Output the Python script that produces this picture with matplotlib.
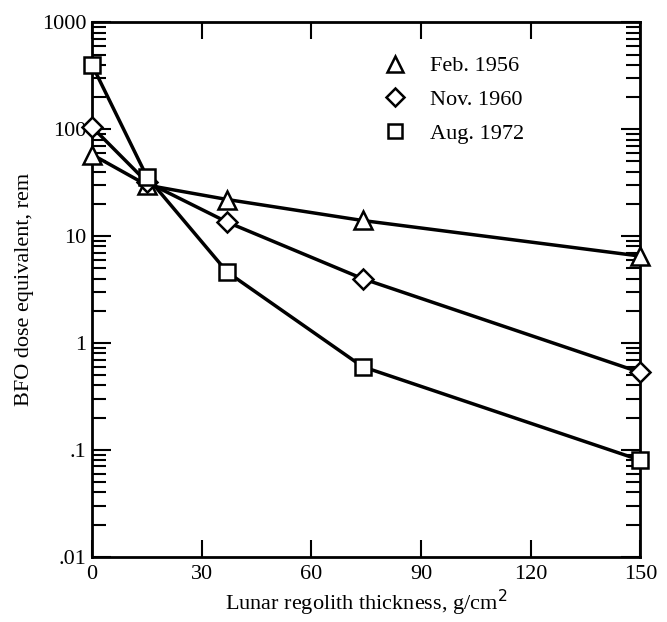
import matplotlib.pyplot as plt
from matplotlib.lines import Line2D
from matplotlib.ticker import FixedLocator, FixedFormatter, LogLocator, NullFormatter

plt.rcParams['font.family'] = ['Liberation Serif', 'DejaVu Serif']

# thickness, g/cm^2
thickness = [0, 15, 37, 74, 150]

# BFO dose equivalent, rem
feb_1956 = [58, 30, 22, 14, 6.5]
nov_1960 = [105, 32, 13.5, 4.0, 0.53]
aug_1972 = [400, 36, 4.6, 0.6, 0.08]

series = [
    ('Feb. 1956', feb_1956, '^', 13),
    ('Nov. 1960', nov_1960, 'D', 10.5),
    ('Aug. 1972', aug_1972, 's', 12),
]

ytick_vals = [0.01, 0.1, 1, 10, 100, 1000]
ytick_labels = ['.01', '.1', '1', '10', '100', '1000']

fig = plt.figure(figsize=(6.67, 6.22), dpi=100)
ax = fig.add_axes([0.138, 0.105, 0.822, 0.859])

for name, vals, mk, ms in series:
    ax.plot(thickness, vals, color='black', lw=2.5, marker=mk, markersize=ms,
            markerfacecolor='white', markeredgecolor='black', markeredgewidth=1.8,
            clip_on=False, zorder=3)

ax.set_yscale('log')
ax.set_ylim(0.01, 1000)
ax.set_xlim(0, 150)
ax.yaxis.set_major_locator(FixedLocator(ytick_vals))
ax.yaxis.set_major_formatter(FixedFormatter(ytick_labels))
ax.yaxis.set_minor_locator(LogLocator(base=10, subs=range(2, 10)))
ax.yaxis.set_minor_formatter(NullFormatter())
ax.set_xticks([0, 30, 60, 90, 120, 150])

for s in ax.spines.values():
    s.set_linewidth(2)

ax.tick_params(axis='both', which='both', direction='in', top=True, right=True,
               labelsize=16, width=1.5)
ax.tick_params(axis='y', which='major', length=14, pad=4)
ax.tick_params(axis='y', which='minor', length=10)
ax.tick_params(axis='x', which='major', length=12, pad=6)

ax.set_xlabel('Lunar regolith thickness, g/cm$^2$', fontsize=16, labelpad=3)
ax.set_ylabel('BFO dose equivalent, rem', fontsize=16, labelpad=6)

handles = [Line2D([], [], ls='none', marker=mk, markersize=ms * 0.85,
                  markerfacecolor='white', markeredgecolor='black',
                  markeredgewidth=1.8, label=name)
           for name, vals, mk, ms in series]
ax.legend(handles=handles, loc='upper left', bbox_to_anchor=(0.475, 0.975),
          frameon=False, fontsize=16, handletextpad=0.6, labelspacing=0.6)

plt.savefig('out.png', dpi=100)
